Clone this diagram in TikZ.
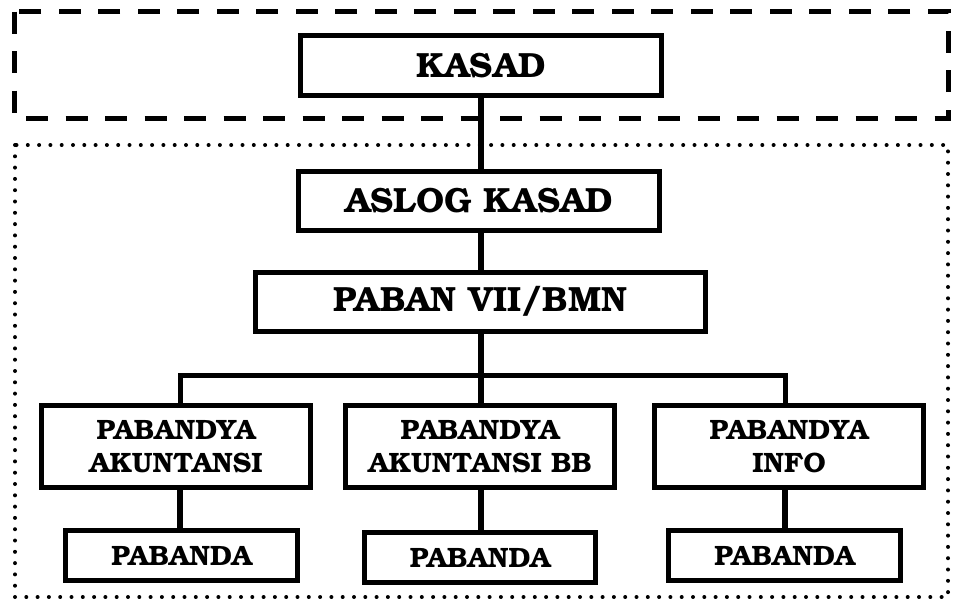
\documentclass[tikz,border=0pt]{standalone}
\usepackage{fontspec}
\setmainfont{texgyrebonum}[Extension=.otf, UprightFont=*-regular, BoldFont=*-bold]
\begin{document}
\begin{tikzpicture}[x=1pt,y=-1pt,
  box/.style={draw, line width=5pt, inner sep=0pt, align=center, font=\bfseries},
  bigtxt/.style={font=\fontsize{35}{38}\selectfont\bfseries},
  smalltxt/.style={font=\fontsize{28}{33.5}\selectfont\bfseries},
  conn/.style={line width=6pt}]
\useasboundingbox (0,0) rectangle (955,598);
% group frames
\draw[line width=5pt, dash pattern=on 22pt off 17.5pt] (14,11.5) rectangle (948,118);
\draw[line width=4pt, line cap=round, dash pattern=on 0pt off 11.3pt] (15,145) rectangle (948,597);
% nodes
\node[box, bigtxt, minimum width=361, minimum height=59.5] (kasad) at (481,65.25) {KASAD};
\node[box, bigtxt, minimum width=361, minimum height=59] (aslog) at (479,201) {ASLOG KASAD};
\node[box, bigtxt, minimum width=449.5, minimum height=58.5] (paban) at (480.25,301.75) {PABAN VII/BMN};
\node[box, smalltxt, minimum width=269, minimum height=82] (pa1) at (176,446.5) {PABANDYA\\AKUNTANSI};
\node[box, smalltxt, minimum width=269, minimum height=82] (pa2) at (480,446.5) {PABANDYA\\AKUNTANSI BB};
\node[box, smalltxt, minimum width=269, minimum height=82] (pa3) at (789,446.5) {PABANDYA\\INFO};
\node[box, smalltxt, minimum width=232, minimum height=50] (pn1) at (181.5,555.5) {PABANDA};
\node[box, smalltxt, minimum width=231, minimum height=50] (pn2) at (480,557.5) {PABANDA};
\node[box, smalltxt, minimum width=232, minimum height=50] (pn3) at (784.5,555.5) {PABANDA};
% connector columns
\coordinate (cm) at (480.5,0);
\coordinate (c1) at (180,0);
\coordinate (c3) at (785,0);
\coordinate (bar) at (0,375.5);
% connectors
\draw[conn] (kasad.south -| cm) -- (aslog.north -| cm);
\draw[conn] (aslog.south -| cm) -- (paban.north -| cm);
\draw[conn] (paban.south -| cm) -- (pa2.north -| cm);
\draw[conn, line width=5pt] (pa1.north -| c1) -- (c1 |- bar) -- (c3 |- bar) -- (pa3.north -| c3);
\draw[conn] (pa1.south -| c1) -- (pn1.north -| c1);
\draw[conn] (pa2.south -| cm) -- (pn2.north -| cm);
\draw[conn] (pa3.south -| c3) -- (pn3.north -| c3);
\end{tikzpicture}
\end{document}
